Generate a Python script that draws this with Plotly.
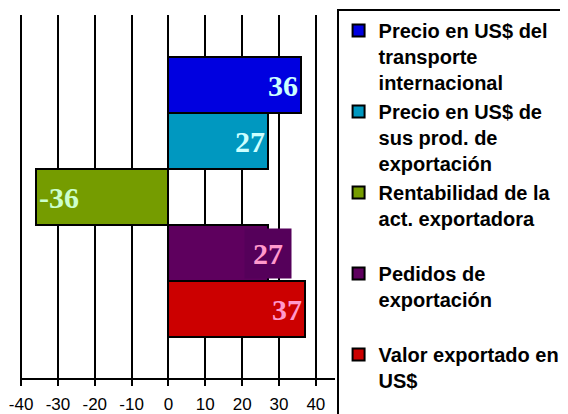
import plotly.graph_objects as go

series = [
    "Precio en US$ del<br>transporte<br>internacional",
    "Precio en US$ de<br>sus prod. de<br>exportación",
    "Rentabilidad de la<br>act. exportadora<br> ",
    "Pedidos de<br>exportación<br> ",
    "Valor exportado en<br>US$<br> ",
]
values = [36, 27, -36, 27, 37]
labels = ["36", "27", "-36", "27", "37"]
colors = ["#0000E0", "#0098C0", "#759C00", "#5E005E", "#CC0000"]
label_colors = ["#CCFFFF", "#CCFFFF", "#CCFFCC", "#FF99CC", "#FF99CC"]
x_ticks = [-40, -30, -20, -10, 0, 10, 20, 30, 40]

cats = ["c%d" % i for i in range(len(series))]

fig = go.Figure()
for i, (name, v, lab, col, lc) in enumerate(zip(series, values, labels, colors, label_colors)):
    use_annot = (i == 3)
    fig.add_trace(go.Bar(
        y=[cats[i]], x=[v], orientation="h", name=name,
        marker=dict(color=col, line=dict(color="black", width=2)),
        text=None if use_annot else [lab],
        textposition="inside", insidetextanchor="end",
        textfont=dict(family="Liberation Serif, Times New Roman, serif", size=30,
                      color=lc, weight="bold"),
        hoverinfo="skip",
    ))
    if use_annot:
        fig.add_annotation(x=v, y=cats[i], text="<b>%s</b>" % lab, showarrow=False,
                           xanchor="center", yanchor="middle",
                           bgcolor="#55005A", borderpad=8,
                           font=dict(family="Liberation Serif, Times New Roman, serif",
                                     size=30, color=lc))

fig.update_layout(
    width=568, height=414,
    margin=dict(l=12, r=241, t=7, b=44, autoexpand=False),
    paper_bgcolor="white", plot_bgcolor="white",
    barmode="overlay", bargap=0.0,
    showlegend=True,
    legend=dict(
        x=1.005, y=1.0165, xanchor="left", yanchor="top",
        bordercolor="black", borderwidth=2, bgcolor="white",
        font=dict(family="Arial, Liberation Sans, sans-serif", size=20,
                  color="black", weight="bold"),
        valign="top", traceorder="normal", tracegroupgap=0,
        maxheight=1000,
    ),
    xaxis=dict(
        range=[-40.3, 45.2], tickvals=x_ticks, ticktext=[str(t) for t in x_ticks],
        showgrid=True, gridcolor="black", gridwidth=2,
        zeroline=False,
        showline=True, linecolor="black", linewidth=2,
        ticks="outside", ticklen=6, tickwidth=2, tickcolor="black",
        ticklabelstandoff=4,
        tickfont=dict(family="Arial, Liberation Sans, sans-serif", size=17, color="black"),
        fixedrange=True,
    ),
    yaxis=dict(
        type="category", categoryorder="array", categoryarray=cats[::-1],
        range=[-1.23, 5.25], showticklabels=False, showgrid=False,
        zeroline=False, showline=False, ticks="",
        fixedrange=True,
    ),
)

fig.write_html("out.html")
